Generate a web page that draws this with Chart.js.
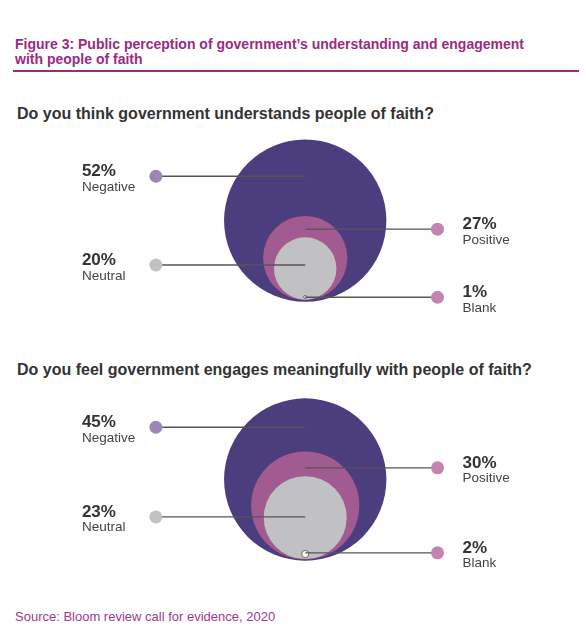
<!DOCTYPE html>
<html lang="en">
<head>
<meta charset="UTF-8">
<title>Figure 3</title>
<script src="https://cdn.jsdelivr.net/npm/chart.js"></script>
<style>
  body { margin: 0; background: #fff; font-family: "Liberation Sans", Arial, sans-serif; }
  .page { position: relative; width: 586px; height: 640px; overflow: hidden; }
  .title { position: absolute; left: 15px; top: 37px; font-size: 14px; line-height: 15px; font-weight: bold; color: #9a2b82; }
  .rule { position: absolute; left: 13px; top: 70px; width: 566px; height: 2px; background: #9a2b82; }
  .question { position: absolute; left: 17px; font-size: 16px; line-height: 18px; font-weight: bold; color: #333; }
  .source { position: absolute; left: 15px; top: 609px; font-size: 13px; line-height: 15px; color: #a0398c; }
  canvas { position: absolute; left: 0; }
</style>
</head>
<body>
<div class="page">
  <div class="title">Figure 3: Public perception of government’s understanding and engagement<br>with people of faith</div>
  <div class="rule"></div>
  <div class="question" style="top:105px">Do you think government understands people of faith?</div>
  <canvas id="chart1" width="586" height="210" style="top:125px"></canvas>
  <div class="question" style="top:361px">Do you feel government engages meaningfully with people of faith?</div>
  <canvas id="chart2" width="586" height="215" style="top:380px"></canvas>
  <div class="source">Source: Bloom review call for evidence, 2020</div>
</div>

<script>
  // survey answers, in percent
  var categories = ['Negative', 'Positive', 'Neutral', 'Blank'];
  var understands = [52, 27, 20, 1];
  var engages = [45, 30, 23, 2];

  // colours per category: circle fill, leader dot
  var circleColors = ['#4b3d7e', '#a15b91', '#c1c1c3', '#ffffff'];
  var dotColors = ['#9c86b9', '#c484b1', '#c2c2c3', '#c484b1'];
  var sides = [-1, 1, -1, 1]; // label on the left or right

  // layout (chart units: biggest circle has radius 100)
  var PX_PER_UNIT = 0.83;
  var DOT_X = { '-1': -184, '1': 163 };

  function makeChart(id, values, leaderHeights, bottomPx) {
    var canvas = document.getElementById(id);
    var W = canvas.width, H = canvas.height;
    var centerPx = 305.5;
    var max = Math.max.apply(null, values);
    var radii = values.map(function (v) { return v / max * 100; });

    var datasets = [];
    categories.forEach(function (cat, i) {
      datasets.push({
        label: cat,
        data: [{ x: 0, y: leaderHeights[i] }, { x: DOT_X[sides[i]], y: leaderHeights[i] }],
        borderColor: '#555',
        borderWidth: 1.3,
        showLine: true,
        pointRadius: [0, 6.5],
        pointBorderWidth: 0,
        pointBackgroundColor: dotColors[i],
        order: 0
      });
    });
    // concentric circles sitting on the same base line
    datasets.push({
      label: 'circles',
      data: radii.map(function (r) { return { x: 0, y: r, r: r }; }),
      showLine: false,
      order: 1,
      pointBackgroundColor: circleColors,
      pointBorderColor: ['#4b3d7e', '#a15b91', '#c1c1c3', '#666'],
      pointBorderWidth: [0, 0, 0, 1],
      pointRadius: function (ctx) {
        var s = ctx.chart.scales.x;
        return s.getPixelForValue(ctx.raw.r) - s.getPixelForValue(0);
      }
    });

    var labelPlugin = {
      id: 'leaderLabels',
      afterDatasetsDraw: function (chart) {
        var c = chart.ctx;
        c.save();
        c.textBaseline = 'alphabetic';
        c.textAlign = 'left';
        categories.forEach(function (cat, i) {
          var pt = chart.getDatasetMeta(i).data[1];
          var x = sides[i] < 0 ? pt.x - 74 : pt.x + 25;
          c.fillStyle = '#333';
          c.font = 'bold 17px "Liberation Sans", Arial, sans-serif';
          c.fillText(values[i] + '%', x, pt.y);
          c.fillStyle = '#444';
          c.font = '13.5px "Liberation Sans", Arial, sans-serif';
          c.fillText(cat, x, pt.y + 14.5);
        });
        c.restore();
      }
    };

    return new Chart(canvas.getContext('2d'), {
      type: 'scatter',
      data: { datasets: datasets },
      options: {
        responsive: false,
        animation: false,
        events: [],
        layout: { padding: 0 },
        plugins: { legend: { display: false }, tooltip: { enabled: false } },
        scales: {
          x: { display: false, min: -centerPx / PX_PER_UNIT, max: (W - centerPx) / PX_PER_UNIT },
          y: { display: false, min: -(H - bottomPx) / PX_PER_UNIT, max: bottomPx / PX_PER_UNIT }
        }
      },
      plugins: [labelPlugin]
    });
  }

  makeChart('chart1', understands, [157, 89, 43, 1.6], 178);
  makeChart('chart2', engages, [167, 115, 52, 6], 182);
</script>
</body>
</html>
